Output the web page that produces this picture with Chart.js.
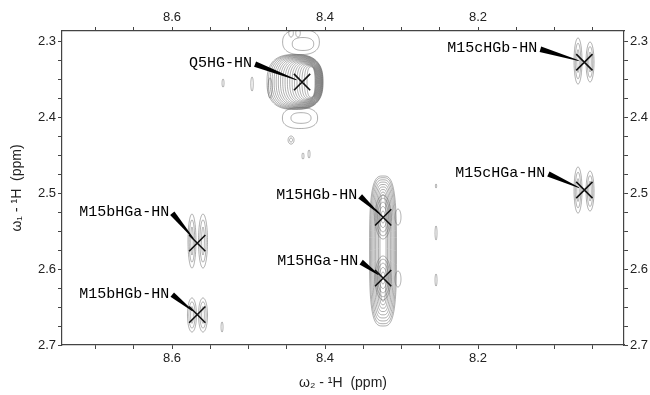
<!DOCTYPE html>
<html>
<head>
<meta charset="utf-8">
<script src="https://cdn.jsdelivr.net/npm/chart.js@4.4.1/dist/chart.umd.min.js"></script>
<style>
  html, body { margin: 0; padding: 0; background: #fff; }
  #wrap { width: 650px; height: 395px; }
</style>
</head>
<body>
<div id="wrap"><canvas id="spectrum"></canvas></div>
<script>
// ── assigned peaks (ppm) ─────────────────────────────────────────────────────
const peakNames = ['Q5HG-HN', 'M15cHGb-HN', 'M15cHGa-HN', 'M15HGb-HN', 'M15HGa-HN', 'M15bHGa-HN', 'M15bHGb-HN'];
const peakW2    = [8.430, 8.061, 8.061, 8.324, 8.324, 8.567, 8.567];
const peakW1    = [2.354, 2.328, 2.496, 2.532, 2.612, 2.566, 2.660];

// ── contour groups: outer ring -> innermost ring (ppm), number of levels ──────
const cX      = [8.4392, 8.4314, 8.4444, 8.4353, 8.4327, 8.4444, 8.4288, 8.4209, 8.4954, 8.5333, 8.4719, 8.3242, 8.3242, 8.3242, 8.3046, 8.3046, 8.2549, 8.2549, 8.2549, 8.5739, 8.5595, 8.5739, 8.5595, 8.5346, 8.0693, 8.0536, 8.0693, 8.0536];
const cY      = [2.3539, 2.3013, 2.2895, 2.2895, 2.4013, 2.4303, 2.4513, 2.4487, 2.3566, 2.3553, 2.3618, 2.5763, 2.5316, 2.6118, 2.5316, 2.6132, 2.5526, 2.6145, 2.4908, 2.5632, 2.5632, 2.6605, 2.6605, 2.6763, 2.3263, 2.3276, 2.4961, 2.4974];
const cRX     = [0.0366, 0.0240, 0.0030, 0.0030, 0.0230, 0.0039, 0.0013, 0.0013, 0.0016, 0.0013, 0.0026, 0.0176, 0.0105, 0.0105, 0.0039, 0.0039, 0.0013, 0.0013, 0.0008, 0.0052, 0.0059, 0.0059, 0.0059, 0.0013, 0.0052, 0.0052, 0.0052, 0.0052];
const cRY     = [0.0362, 0.0165, 0.0053, 0.0053, 0.0138, 0.0053, 0.0040, 0.0053, 0.0092, 0.0053, 0.0132, 0.0987, 0.0289, 0.0289, 0.0105, 0.0105, 0.0092, 0.0079, 0.0026, 0.0355, 0.0355, 0.0224, 0.0224, 0.0066, 0.0303, 0.0263, 0.0303, 0.0263];
const cInX    = [8.4183, 8.4288, 8.4444, 8.4353, 8.4314, 8.4444, 8.4288, 8.4209, 8.4954, 8.5333, 8.4719, 8.3242, 8.3242, 8.3242, 8.3046, 8.3046, 8.2549, 8.2549, 8.2549, 8.5739, 8.5595, 8.5739, 8.5595, 8.5346, 8.0693, 8.0536, 8.0693, 8.0536];
const cInY    = [2.3539, 2.3039, 2.2895, 2.2895, 2.4013, 2.4303, 2.4513, 2.4487, 2.3566, 2.3553, 2.3618, 2.5724, 2.5316, 2.6118, 2.5316, 2.6132, 2.5526, 2.6145, 2.4908, 2.5632, 2.5632, 2.6605, 2.6605, 2.6763, 2.3263, 2.3276, 2.4961, 2.4974];
const cInRX   = [0.0052, 0.0140, 0.0030, 0.0030, 0.0131, 0.0020, 0.0013, 0.0013, 0.0016, 0.0013, 0.0026, 0.0040, 0.0026, 0.0026, 0.0039, 0.0039, 0.0013, 0.0013, 0.0008, 0.0016, 0.0018, 0.0018, 0.0018, 0.0013, 0.0016, 0.0016, 0.0016, 0.0016];
const cInRY   = [0.0200, 0.0085, 0.0053, 0.0053, 0.0070, 0.0026, 0.0040, 0.0053, 0.0092, 0.0053, 0.0132, 0.0700, 0.0079, 0.0079, 0.0105, 0.0105, 0.0092, 0.0079, 0.0026, 0.0184, 0.0184, 0.0110, 0.0110, 0.0066, 0.0150, 0.0130, 0.0150, 0.0130];
const cLevels = [19, 2, 1, 1, 2, 2, 1, 1, 1, 1, 1, 9, 5, 5, 1, 1, 1, 1, 1, 3, 3, 3, 3, 1, 3, 3, 3, 3];
const cShape  = [2.6, 2.4, 2, 2, 2.4, 2, 2, 2, 2, 2, 2, 3.2, 2, 2, 2, 2, 2, 2, 2, 2, 2, 2, 2, 2, 2, 2, 2, 2];

// ── axes ─────────────────────────────────────────────────────────────────────
const w2Range  = [8.0092, 8.7438];
const w1Range  = [2.2868, 2.7000];
const w2Labels = [8.6, 8.4, 8.2];
const w1Labels = [2.3, 2.4, 2.5, 2.6, 2.7];

// label placement relative to the peak cross (px, styling only)
const labelDx = [-50, -47, -39, -26, -25, -28, -28];
const labelDy = [-19, -14, -17, -22, -17, -31, -21];

const tickFont = { family: "'Liberation Sans', Arial, sans-serif", size: 13 };

function minorTicks(from, to, step) {
    const out = [];
    for (let k = 0; from + k * step <= to + 1e-9; k++) out.push({ value: +(from + k * step).toFixed(4) });
    return out;
}
const w2Ticks = minorTicks(8.05, 8.70, 0.05);
const w1Ticks = minorTicks(2.30, 2.70, 0.025);

const isMajor = (v, list) => list.some(m => Math.abs(m - v) < 1e-6);

function axis(position, range, ticks, labels, size, title) {
    return {
        type: 'linear',
        position,
        reverse: true,
        min: range[0],
        max: range[1],
        afterBuildTicks: s => { s.ticks = ticks.map(t => ({ value: t.value })); },
        afterFit: s => {
            if (position === 'top' || position === 'bottom') s.height = size; else s.width = size;
        },
        grid:   { drawOnChartArea: false, drawTicks: true, tickLength: 4, color: '#444', tickWidth: 1 },
        border: { display: true, color: '#444', width: 1.2 },
        ticks:  {
            font: tickFont, color: '#222', padding: 2, autoSkip: false, maxRotation: 0,
            callback: v => isMajor(v, labels) ? v.toFixed(1) : ''
        },
        title: title || { display: false }
    };
}

// Plugin: contour rings drawn through the scales
const contourPlugin = {
    id: 'contours',
    beforeDatasetsDraw(chart) {
        const { ctx, chartArea: a, scales: { x, y } } = chart;
        ctx.save();
        ctx.beginPath();
        ctx.rect(a.left, a.top, a.right - a.left, a.bottom - a.top);
        ctx.clip();
        ctx.strokeStyle = 'rgba(100,100,100,0.75)';
        ctx.lineWidth = 0.7;
        cX.forEach((_, g) => {
            const n = cLevels[g];
            for (let i = 0; i < n; i++) {
                const f = n === 1 ? 0 : Math.pow(i / (n - 1), 1.15);
                const cx = cX[g] + (cInX[g] - cX[g]) * f;
                const cy = cY[g] + (cInY[g] - cY[g]) * f;
                const rx = cRX[g] + (cInRX[g] - cRX[g]) * f;
                const ry = cRY[g] + (cInRY[g] - cRY[g]) * f;
                const px = x.getPixelForValue(cx), py = y.getPixelForValue(cy);
                const hx = Math.abs(x.getPixelForValue(cx + rx) - px);
                const hy = Math.abs(y.getPixelForValue(cy + ry) - py);
                const e = 2 / cShape[g];
                ctx.beginPath();
                for (let s = 0; s <= 96; s++) {
                    const t = s / 96 * Math.PI * 2;
                    const c = Math.cos(t), d = Math.sin(t);
                    const qx = px + hx * Math.sign(c) * Math.pow(Math.abs(c), e);
                    const qy = py + hy * Math.sign(d) * Math.pow(Math.abs(d), e);
                    s === 0 ? ctx.moveTo(qx, qy) : ctx.lineTo(qx, qy);
                }
                ctx.closePath();
                ctx.stroke();
            }
        });
        ctx.restore();
    }
};

// Plugin: peak names with tapered pointer
const peakLabelPlugin = {
    id: 'peakLabels',
    afterDatasetsDraw(chart) {
        const { ctx, scales: { x, y } } = chart;
        ctx.save();
        ctx.font = "15px 'Liberation Mono', 'Courier New', monospace";
        ctx.fillStyle = '#000';
        ctx.textAlign = 'right';
        ctx.textBaseline = 'middle';
        peakNames.forEach((name, i) => {
            const px = x.getPixelForValue(peakW2[i]);
            const py = y.getPixelForValue(peakW1[i]);
            const tx = px + labelDx[i], ty = py + labelDy[i];
            ctx.fillText(name, tx, ty);
            const sx = tx + 3, sy = ty + 1;
            const dx = px - sx, dy = py - sy;
            const len = Math.hypot(dx, dy);
            const ux = dx / len, uy = dy / len;
            const ex = px - ux * 6, ey = py - uy * 6;
            const nx = -uy, ny = ux;
            ctx.beginPath();
            ctx.moveTo(sx + nx * 2.8, sy + ny * 2.8);
            ctx.lineTo(ex + nx * 0.4, ey + ny * 0.4);
            ctx.lineTo(ex - nx * 0.4, ey - ny * 0.4);
            ctx.lineTo(sx - nx * 2.8, sy - ny * 2.8);
            ctx.closePath();
            ctx.fill();
        });
        ctx.restore();
    }
};

const titleFont = { family: "'Liberation Sans', Arial, sans-serif", size: 14 };

new Chart(document.getElementById('spectrum').getContext('2d'), {
    type: 'scatter',
    plugins: [contourPlugin, peakLabelPlugin],
    data: {
        datasets: [{
            data: peakW2.map((v, i) => ({ x: v, y: peakW1[i] })),
            pointStyle: 'crossRot',
            radius: 11.5,
            borderColor: '#111',
            borderWidth: 1.6,
            xAxisID: 'x',
            yAxisID: 'y'
        }]
    },
    options: {
        responsive: true,
        maintainAspectRatio: false,
        animation: false,
        layout: { padding: 0 },
        plugins: { legend: { display: false }, tooltip: { enabled: false } },
        scales: {
            x:  axis('bottom', w2Range, w2Ticks, w2Labels, 50,
                     { display: true, text: 'ω₂ - ¹H  (ppm)', font: titleFont, color: '#222', padding: { top: 0, bottom: 3 } }),
            x2: axis('top', w2Range, w2Ticks, w2Labels, 31),
            y:  axis('left', w1Range, w1Ticks, w1Labels, 62,
                     { display: true, text: 'ω₁ - ¹H  (ppm)', font: titleFont, color: '#222', padding: { top: 9, bottom: 0 } }),
            y2: axis('right', w1Range, w1Ticks, w1Labels, 26)
        }
    }
});
</script>
</body>
</html>
